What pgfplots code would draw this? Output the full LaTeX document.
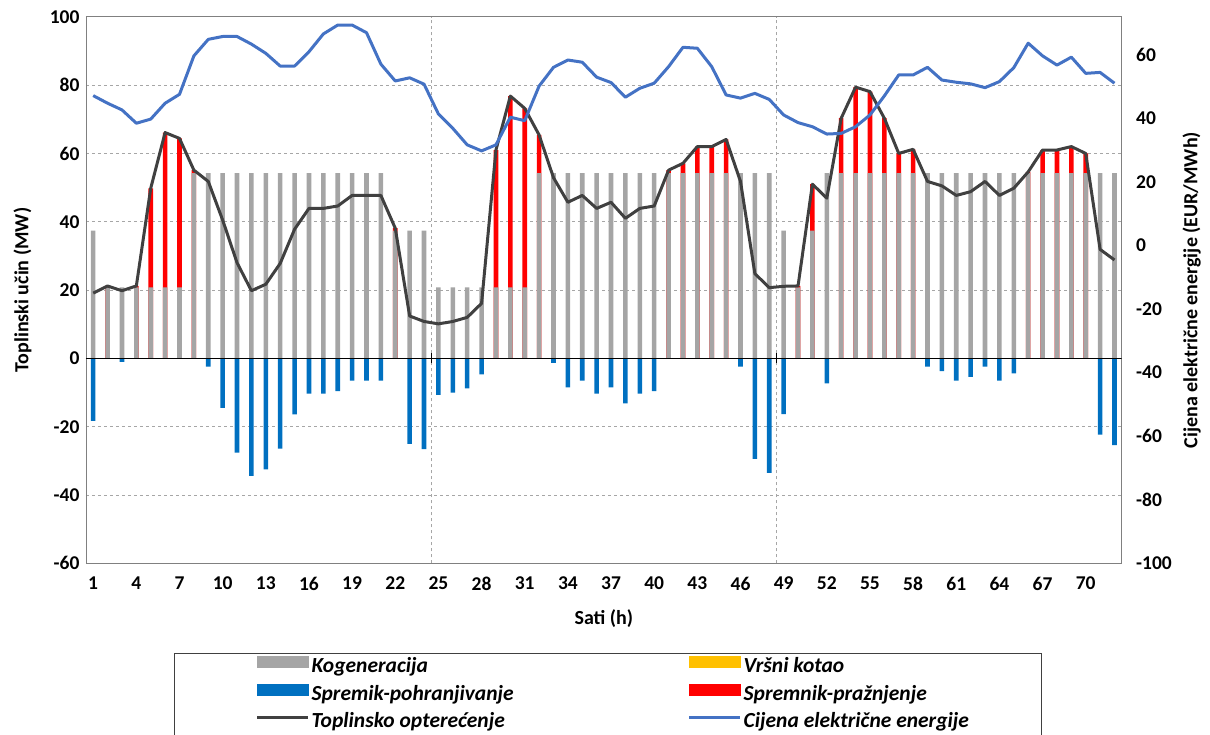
\documentclass[border=0pt]{standalone}
\usepackage{pgfplots}
\pgfplotsset{compat=1.18}
\usepackage{fontspec}
\setmainfont{Carlito}
\definecolor{cgray}{HTML}{A5A5A5}
\definecolor{cblue}{HTML}{0070C0}
\definecolor{cred}{HTML}{FF0000}
\definecolor{cyellow}{HTML}{FFC000}
\definecolor{cload}{HTML}{404040}
\definecolor{cprice}{HTML}{4472C4}
\definecolor{cgrid}{HTML}{A6A6A6}
\begin{document}
\begin{tikzpicture}
\pgfplotsset{
  every axis/.append style={
    scale only axis, width=1035.7pt, height=546.5pt,
    xmin=0.5, xmax=72.5,
    /pgf/number format/assume math mode=true,
    tick label style={font=\bfseries\fontsize{19.5}{22}\selectfont},
    major tick length=0pt,
  }
}
\begin{axis}[
  at={(0,0)}, anchor=south west,
  ymin=-60, ymax=100, ytick={-60,-40,...,100},
  xtick={1,4,...,70},
  yticklabel style={xshift=-3pt},
  xticklabel style={yshift=-10pt},
  extra x ticks={24.5,48.5}, extra x tick labels={},
  extra x tick style={grid=major},
  ymajorgrids,
  grid style={dashed, cgrid, line width=0.8pt},
  axis line style={draw=black!50, line width=0.8pt},
  xlabel={Sati (h)},
  ylabel={Toplinski učin (MW)},
  every axis x label/.style={at={(rel axis cs:0.5,0)}, yshift=-55.7pt, anchor=center,
    font=\bfseries\fontsize{20}{24}\selectfont},
  every axis y label/.style={at={(rel axis cs:0,0.5)}, xshift=-63.5pt, rotate=90, anchor=center,
    font=\bfseries\fontsize{20}{24}\selectfont},
]
% Spremnik-praznjenje (drawn to the top of the stack: kogeneracija + praznjenje)
\addplot[ybar, bar width=4.6pt, bar shift=0pt, fill=cred, draw=none] coordinates {
(2,21.2)(4,21.2)(5,49.8)(6,66.1)(7,64.4)(8,55.1)(22,38.1)
(29,61.0)(30,76.8)(31,73.2)(32,65.4)(41,55.1)(42,57.1)(43,62.0)(44,62.0)(45,64.1)
(50,21.2)(51,51.0)(53,70.3)(54,79.4)(55,78.1)(56,70.3)(57,60.0)(58,61.2)
(66,54.6)(67,61.0)(68,61.0)(69,62.0)(70,60.0)};
% Kogeneracija
\addplot[ybar, bar width=4.6pt, bar shift=0pt, fill=cgray, draw=none] coordinates {
(1,37.4)(2,20.8)(3,20.8)(4,20.8)(5,20.8)(6,20.8)(7,20.8)(8,54.2)(9,54.2)(10,54.2)
(11,54.2)(12,54.2)(13,54.2)(14,54.2)(15,54.2)(16,54.2)(17,54.2)(18,54.2)(19,54.2)(20,54.2)
(21,54.2)(22,37.4)(23,37.4)(24,37.4)(25,20.8)(26,20.8)(27,20.8)(28,20.8)(29,20.8)(30,20.8)
(31,20.8)(32,54.2)(33,54.2)(34,54.2)(35,54.2)(36,54.2)(37,54.2)(38,54.2)(39,54.2)(40,54.2)
(41,54.2)(42,54.2)(43,54.2)(44,54.2)(45,54.2)(46,54.2)(47,54.2)(48,54.2)(49,37.4)(50,20.8)
(51,37.4)(52,54.2)(53,54.2)(54,54.2)(55,54.2)(56,54.2)(57,54.2)(58,54.2)(59,54.2)(60,54.2)
(61,54.2)(62,54.2)(63,54.2)(64,54.2)(65,54.2)(66,54.2)(67,54.2)(68,54.2)(69,54.2)(70,54.2)
(71,54.2)(72,54.2)};
% Spremik-pohranjivanje
\addplot[ybar, bar width=4.6pt, bar shift=0pt, fill=cblue, draw=none] coordinates {
(1,-18.3)(3,-1.0)(9,-2.4)(10,-14.5)(11,-27.6)(12,-34.4)(13,-32.5)(14,-26.4)(15,-16.4)
(16,-10.3)(17,-10.3)(18,-9.6)(19,-6.5)(20,-6.5)(21,-6.5)(23,-25.0)(24,-26.6)
(25,-10.7)(26,-10.0)(27,-8.8)(28,-4.7)(33,-1.3)(34,-8.5)(35,-6.5)(36,-10.3)(37,-8.5)
(38,-13.2)(39,-10.3)(40,-9.6)(46,-2.4)(47,-29.4)(48,-33.5)(49,-16.3)(52,-7.3)
(59,-2.4)(60,-3.7)(61,-6.5)(62,-5.4)(63,-2.4)(64,-6.5)(65,-4.4)(71,-22.3)(72,-25.4)};
% zero line
\draw[black, line width=1.3pt] (axis cs:0.5,0) -- (axis cs:72.5,0);
\draw[black, line width=1pt] ([yshift=-5pt]axis cs:24.5,0) -- ([yshift=5pt]axis cs:24.5,0);
\draw[black, line width=1pt] ([yshift=-5pt]axis cs:48.5,0) -- ([yshift=5pt]axis cs:48.5,0);
% Toplinsko opterecenje
\addplot[cload, line width=3pt, line join=round, mark=none] coordinates {
(1,19.1)(2,21.2)(3,19.8)(4,21.2)(5,49.8)(6,66.1)(7,64.4)(8,55.1)(9,51.8)(10,40.5)
(11,28.0)(12,19.8)(13,21.7)(14,27.8)(15,37.8)(16,43.9)(17,43.9)(18,44.6)(19,47.7)(20,47.7)
(21,47.7)(22,38.1)(23,12.4)(24,10.8)(25,10.1)(26,10.8)(27,12.0)(28,16.1)(29,61.0)(30,76.8)
(31,73.2)(32,65.4)(33,52.9)(34,45.7)(35,47.7)(36,43.9)(37,45.7)(38,41.0)(39,43.9)(40,44.6)
(41,55.1)(42,57.1)(43,62.0)(44,62.0)(45,64.1)(46,51.8)(47,24.8)(48,20.7)(49,21.1)(50,21.2)
(51,51.0)(52,46.9)(53,70.3)(54,79.4)(55,78.1)(56,70.3)(57,60.0)(58,61.2)(59,51.8)(60,50.5)
(61,47.7)(62,48.8)(63,51.8)(64,47.7)(65,49.8)(66,54.6)(67,61.0)(68,61.0)(69,62.0)(70,60.0)
(71,31.9)(72,28.8)};
\end{axis}
\begin{axis}[
  at={(0,0)}, anchor=south west,
  ymin=-100, ymax=72, ytick={-100,-80,...,60},
  axis x line=none, axis y line*=right,
  y axis line style={draw=none},
  yticklabel style={xshift=11pt},
  ylabel={Cijena električne energije (EUR/MWh)},
  every axis y label/.style={at={(rel axis cs:1,0.5)}, xshift=70pt, rotate=90, anchor=center,
    font=\bfseries\fontsize{20}{24}\selectfont},
  legend columns=2,
  legend cell align=left,
  legend style={at={(0.0853,-0.1647)}, anchor=north west,
    draw=black!75, line width=0.8pt,
    font=\bfseries\itshape\fontsize{21.5}{25}\selectfont,
    inner xsep=70pt, inner ysep=2pt, row sep=5.5pt,
    nodes={inner xsep=2pt, inner ysep=1pt, text height=15pt, text depth=5pt},
    /tikz/column 2/.style={column sep=172pt}},
]
\addlegendimage{legend image code/.code={\path (-12pt,0); \fill[cgray] (0pt,0pt) rectangle (51pt,11pt);}}
\addlegendentry{Kogeneracija}
\addlegendimage{legend image code/.code={\fill[cyellow] (0pt,0pt) rectangle (51pt,11pt);}}
\addlegendentry{Vršni kotao}
\addlegendimage{legend image code/.code={\path (-12pt,0); \fill[cblue] (0pt,0pt) rectangle (51pt,11pt);}}
\addlegendentry{Spremik-pohranjivanje}
\addlegendimage{legend image code/.code={\fill[cred] (0pt,0pt) rectangle (51pt,11pt);}}
\addlegendentry{Spremnik-pražnjenje}
\addlegendimage{legend image code/.code={\path (-12pt,0); \draw[cload, line width=3pt] (0pt,5.5pt) -- (51pt,5.5pt);}}
\addlegendentry{Toplinsko opterećenje}
\addlegendimage{legend image code/.code={\draw[cprice, line width=3pt] (0pt,5.5pt) -- (51pt,5.5pt);}}
\addlegendentry{Cijena električne energije}
% Cijena elektricne energije
\addplot[cprice, line width=3pt, line join=round, mark=none, forget plot] coordinates {
(1,47.2)(2,44.8)(3,42.7)(4,38.5)(5,39.8)(6,44.8)(7,47.6)(8,59.7)(9,64.9)(10,65.8)
(11,65.8)(12,63.4)(13,60.5)(14,56.5)(15,56.5)(16,61.0)(17,66.6)(18,69.4)(19,69.4)(20,67.0)
(21,57.1)(22,51.8)(23,52.8)(24,50.8)(25,41.4)(26,36.9)(27,31.7)(28,29.8)(29,31.7)(30,40.4)
(31,39.3)(32,50.2)(33,56.1)(34,58.4)(35,57.7)(36,53.0)(37,51.3)(38,46.7)(39,49.5)(40,51.1)
(41,56.3)(42,62.4)(43,62.1)(44,56.3)(45,47.4)(46,46.4)(47,47.9)(48,46.0)(49,41.1)(50,38.7)
(51,37.4)(52,35.1)(53,35.3)(54,37.4)(55,41.1)(56,47.1)(57,53.7)(58,53.7)(59,56.1)(60,52.1)
(61,51.4)(62,50.9)(63,49.7)(64,51.6)(65,56.0)(66,63.7)(67,59.7)(68,56.8)(69,59.3)(70,54.2)
(71,54.5)(72,51.1)};
\end{axis}
\pgfresetboundingbox
\useasboundingbox (-86pt,-170.7pt) rectangle (1124pt,563.3pt);
\end{tikzpicture}
\end{document}
